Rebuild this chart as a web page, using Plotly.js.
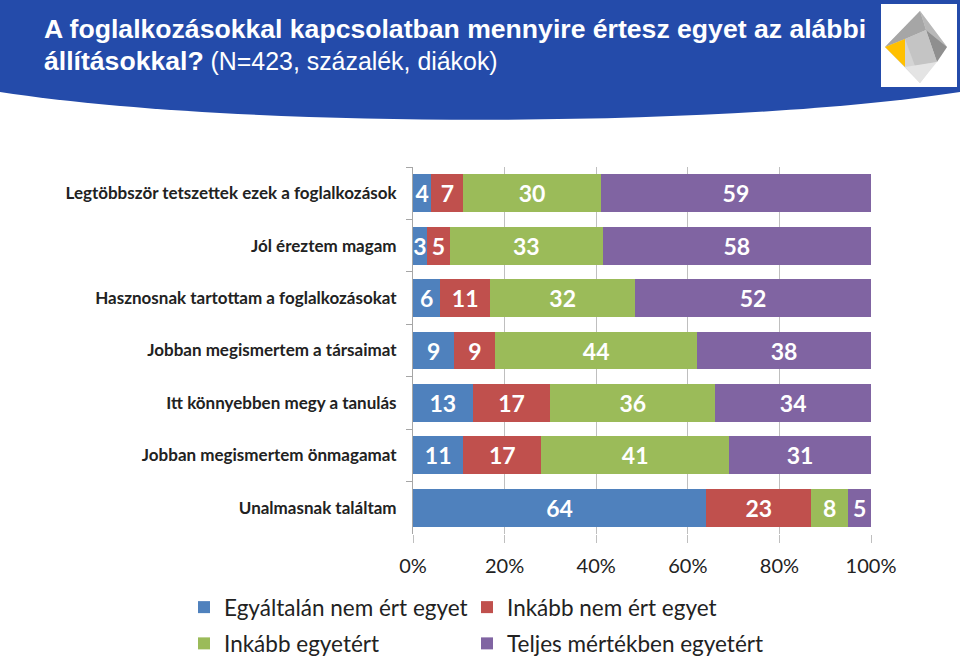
<!DOCTYPE html>
<html>
<head>
<meta charset="utf-8">
<script src="https://cdn.plot.ly/plotly-3.0.1.min.js"></script>
<style>html,body{margin:0;padding:0;background:#fff;}#chart{width:960px;height:656px;}</style>
</head>
<body>
<div id="chart"></div>
<script>
// ---- data ----
const categories = [
  "Legtöbbször tetszettek ezek a foglalkozások",
  "Jól éreztem magam",
  "Hasznosnak tartottam a foglalkozásokat",
  "Jobban megismertem a társaimat",
  "Itt könnyebben megy a tanulás",
  "Jobban megismertem önmagamat",
  "Unalmasnak találtam"
];
const seriesNames = [
  "Egyáltalán nem ért egyet",
  "Inkább nem ért egyet",
  "Inkább egyetért",
  "Teljes mértékben egyetért"
];
const egyaltalanNem = [4, 3, 6, 9, 13, 11, 64];
const inkabbNem     = [7, 5, 11, 9, 17, 17, 23];
const inkabbIgen    = [30, 33, 32, 44, 36, 41, 8];
const teljesen      = [59, 58, 52, 38, 34, 31, 5];
const xTickVals  = [0, 20, 40, 60, 80, 100];
const xTickText  = ["0%", "20%", "40%", "60%", "80%", "100%"];

// ---- layout geometry ----
const W = 960, H = 656;
const L = 413, R = 871, T = 167, B = 534;
const pw = R - L, ph = B - T;
const px = x => (x - L) / pw;
const py = y => (B - y) / ph;
const P = (x, y) => px(x).toFixed(5) + "," + py(y).toFixed(5);

const colors = ["#4F81BD", "#C0504D", "#9BBB59", "#8064A2"];
const values = [egyaltalanNem, inkabbNem, inkabbIgen, teljesen];
const legendOf = ["legend", "legend2", "legend", "legend2"];

const traces = values.map((v, i) => ({
  type: "bar",
  orientation: "h",
  name: seriesNames[i],
  y: categories,
  x: v,
  text: v.map(String),
  texttemplate: "%{text}",
  textposition: "inside",
  insidetextanchor: "middle",
  textangle: 0,
  constraintext: "none",
  cliponaxis: false,
  textfont: {family: "Lato, 'Open Sans', sans-serif", size: 23, color: "#ffffff", weight: "bold"},
  marker: {color: colors[i], line: {width: 0}},
  legend: legendOf[i],
  legendgroup: "g" + i,
  hoverinfo: "skip"
}));

const headerPath = "M" + P(0, 0) + " L" + P(W, 0) + " L" + P(W, 92) +
  " C" + P(720, 129) + " " + P(240, 129) + " " + P(0, 92) + " Z";

const shapes = [
  {type: "path", xref: "paper", yref: "paper", path: headerPath,
   fillcolor: "#244BAA", line: {width: 0}, layer: "below"},
  {type: "rect", xref: "paper", yref: "paper", x0: px(881), x1: px(957), y0: py(4), y1: py(87),
   fillcolor: "#ffffff", line: {width: 0}, layer: "below"},
  // logo facets
  {type: "path", xref: "paper", yref: "paper", layer: "below", line: {width: 0}, fillcolor: "#D4D4D4",
   path: "M" + P(920, 11) + " L" + P(947, 47) + " L" + P(920, 83) + " L" + P(885, 47) + " Z"},
  {type: "path", xref: "paper", yref: "paper", layer: "below", line: {width: 0}, fillcolor: "#A6A6A6",
   path: "M" + P(920, 11) + " L" + P(926, 30) + " L" + P(905, 39) + " L" + P(885, 47) + " Z"},
  {type: "path", xref: "paper", yref: "paper", layer: "below", line: {width: 0}, fillcolor: "#B8B8B8",
   path: "M" + P(920, 11) + " L" + P(947, 47) + " L" + P(926, 30) + " Z"},
  {type: "path", xref: "paper", yref: "paper", layer: "below", line: {width: 0}, fillcolor: "#8F8F8F",
   path: "M" + P(926, 30) + " L" + P(947, 47) + " L" + P(937, 62) + " Z"},
  {type: "path", xref: "paper", yref: "paper", layer: "below", line: {width: 0}, fillcolor: "#C4C4C4",
   path: "M" + P(905, 39) + " L" + P(926, 30) + " L" + P(937, 62) + " L" + P(915, 66) + " Z"},
  {type: "path", xref: "paper", yref: "paper", layer: "below", line: {width: 0}, fillcolor: "#E4E4E4",
   path: "M" + P(905, 67) + " L" + P(937, 62) + " L" + P(920, 83) + " Z"},
  {type: "path", xref: "paper", yref: "paper", layer: "below", line: {width: 0}, fillcolor: "#FFC000",
   path: "M" + P(885, 47) + " L" + P(905, 39) + " L" + P(905, 67) + " Z"}
];

const layout = {
  width: W, height: H,
  margin: {l: L, r: W - R, t: T, b: H - B, pad: 0, autoexpand: false},
  paper_bgcolor: "#ffffff",
  plot_bgcolor: "rgba(0,0,0,0)",
  barmode: "stack",
  barnorm: "percent",
  bargap: 0.28,
  showlegend: true,
  font: {family: "Lato, 'Open Sans', sans-serif", color: "#222222"},
  title: {
    text: "<b><span style='font-size:26.6px'>A foglalkozásokkal kapcsolatban mennyire értesz egyet az alábbi</span><br>" +
          "<span style='font-size:26.6px'>állításokkal?</span></b> (N=423, százalék, diákok)",
    font: {family: "'Liberation Sans', Arial, sans-serif", size: 24.9, color: "#ffffff"},
    xref: "container", yref: "container",
    x: 44 / W, xanchor: "left",
    y: 1 - 38 / H, yanchor: "top",
    pad: {t: 0, l: 0, r: 0, b: 0}
  },
  xaxis: {
    range: [0, 100],
    tickvals: xTickVals, ticktext: xTickText,
    showgrid: true, gridcolor: "#BFBFBF", gridwidth: 1,
    zeroline: false, showline: false,
    ticks: "outside", ticklen: 8, tickcolor: "#BFBFBF", tickwidth: 1,
    tickfont: {size: 20, color: "#222222"},
    ticklabelstandoff: 6,
    fixedrange: true
  },
  yaxis: {
    type: "category",
    autorange: "reversed",
    showline: true, linecolor: "#A6A6A6", linewidth: 1,
    ticks: "outside", tickson: "boundaries", ticklen: 6, tickcolor: "#A6A6A6",
    showgrid: false, zeroline: false,
    tickfont: {size: 17, color: "#222222", weight: "bold"},
    ticklabelstandoff: 12,
    fixedrange: true
  },
  legend: {
    orientation: "v", traceorder: "grouped", tracegroupgap: 4,
    x: px(184), xanchor: "left", y: py(586), yanchor: "top",
    font: {size: 22.5, color: "#222222"}, bgcolor: "rgba(0,0,0,0)", borderwidth: 0
  },
  legend2: {
    orientation: "v", traceorder: "grouped", tracegroupgap: 4,
    x: px(467), xanchor: "left", y: py(586), yanchor: "top",
    font: {size: 22.5, color: "#222222"}, bgcolor: "rgba(0,0,0,0)", borderwidth: 0
  },
  shapes: shapes
};

Plotly.newPlot("chart", traces, layout, {displayModeBar: false, staticPlot: true});
</script>
</body>
</html>
